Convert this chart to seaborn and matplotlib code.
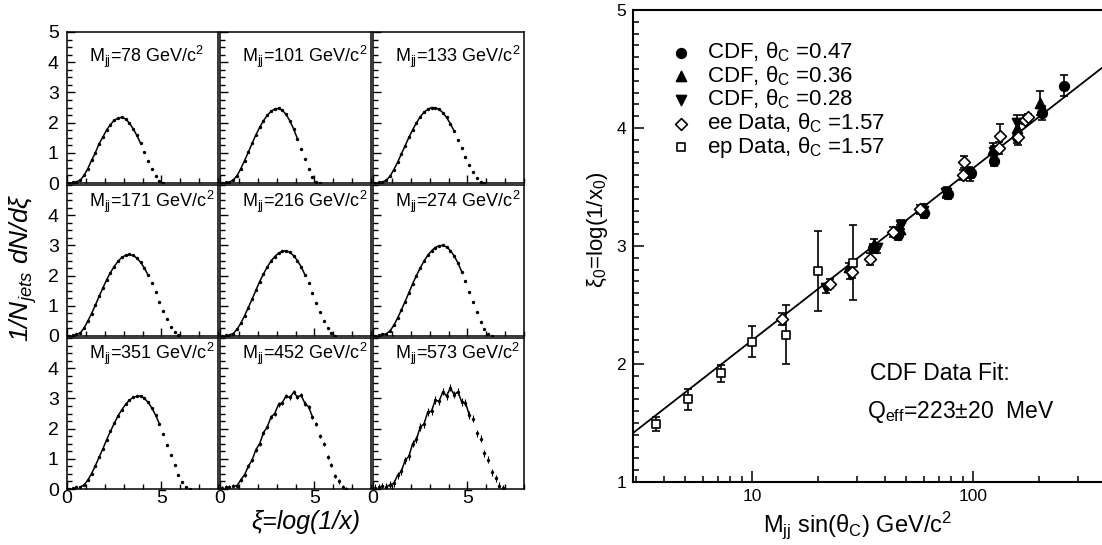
import numpy as np
import matplotlib
matplotlib.use("Agg")
import matplotlib.pyplot as plt
import seaborn as sns
from matplotlib.ticker import MultipleLocator, LogLocator, NullFormatter, FixedLocator, FixedFormatter

sns.set_style("ticks")
plt.rcParams["font.family"] = ["Liberation Sans", "DejaVu Sans"]
plt.rcParams["mathtext.fontset"] = "custom"
plt.rcParams["mathtext.rm"] = "Liberation Sans"
plt.rcParams["mathtext.it"] = "Liberation Sans:italic"
plt.rcParams["mathtext.bf"] = "Liberation Sans:bold"
plt.rcParams["axes.edgecolor"] = "black"
plt.rcParams["xtick.color"] = "black"
plt.rcParams["ytick.color"] = "black"
plt.rcParams["text.color"] = "black"

# ---------------- inclusive momentum spectra, 1/N dN/dxi ----------------
mjj = [78, 101, 133, 171, 216, 274, 351, 452, 573]

xi_bins = [0.1, 0.3, 0.5, 0.7, 0.9, 1.1, 1.3, 1.5, 1.7, 1.9, 2.1, 2.3, 2.5, 2.7,
           2.9, 3.1, 3.3, 3.5, 3.7, 3.9, 4.1, 4.3, 4.5, 4.7, 4.9, 5.1, 5.3, 5.5,
           5.7, 5.9, 6.1, 6.3, 6.5, 6.7, 6.9]

dn_78 = [0.01, 0.02, 0.04, 0.09, 0.25, 0.47, 0.75, 1.00, 1.30, 1.52, 1.76, 1.93, 2.08,
         2.14, 2.18, 2.12, 1.99, 1.80, 1.58, 1.31, 1.04, 0.74, 0.47, 0.24, 0.07, 0.01]
dn_101 = [0.01, 0.02, 0.03, 0.10, 0.24, 0.47, 0.74, 1.02, 1.31, 1.59, 1.84, 2.06, 2.24,
          2.37, 2.45, 2.47, 2.41, 2.27, 2.06, 1.79, 1.47, 1.13, 0.79, 0.47, 0.21, 0.04, 0.01]
dn_133 = [0.01, 0.02, 0.03, 0.09, 0.22, 0.44, 0.68, 0.96, 1.23, 1.51, 1.76, 1.99, 2.19,
          2.34, 2.44, 2.50, 2.49, 2.44, 2.33, 2.17, 1.96, 1.72, 1.44, 1.15, 0.87, 0.59,
          0.35, 0.15, 0.03, 0.01]
dn_171 = [0.01, 0.03, 0.05, 0.10, 0.26, 0.49, 0.74, 1.02, 1.31, 1.59, 1.86, 2.10, 2.30,
          2.47, 2.60, 2.67, 2.70, 2.67, 2.58, 2.44, 2.25, 2.01, 1.74, 1.45, 1.13, 0.83,
          0.55, 0.30, 0.12, 0.02]
dn_216 = [0.01, 0.03, 0.04, 0.08, 0.22, 0.42, 0.67, 0.94, 1.22, 1.51, 1.80, 2.05, 2.28,
          2.48, 2.63, 2.74, 2.81, 2.82, 2.77, 2.66, 2.50, 2.29, 2.03, 1.74, 1.43, 1.10,
          0.79, 0.51, 0.27, 0.09, 0.01]
dn_274 = [0.01, 0.03, 0.05, 0.07, 0.17, 0.35, 0.59, 0.86, 1.14, 1.43, 1.73, 2.00, 2.25,
          2.48, 2.67, 2.82, 2.93, 2.99, 3.00, 2.95, 2.83, 2.65, 2.42, 2.13, 1.81, 1.47,
          1.12, 0.79, 0.48, 0.23, 0.06, 0.01]
dn_351 = [0.01, 0.03, 0.05, 0.07, 0.13, 0.29, 0.51, 0.77, 1.05, 1.33, 1.63, 1.91, 2.17,
          2.42, 2.62, 2.80, 2.94, 3.03, 3.07, 3.08, 3.00, 2.87, 2.68, 2.44, 2.15, 1.83,
          1.47, 1.12, 0.79, 0.48, 0.23, 0.06, 0.01]
dn_452 = [0.02, 0.05, 0.05, 0.10, 0.11, 0.30, 0.47, 0.75, 0.96, 1.30, 1.50, 1.86, 2.05,
          2.38, 2.50, 2.80, 2.86, 3.08, 3.03, 3.20, 3.05, 3.10, 2.83, 2.72, 2.38, 2.16,
          1.75, 1.50, 1.05, 0.80, 0.44, 0.25, 0.05, 0.01]
dn_573 = [0.03, 0.06, 0.09, 0.07, 0.14, 0.19, 0.45, 0.58, 0.95, 1.08, 1.50, 1.64, 2.05,
          2.15, 2.55, 2.58, 2.95, 2.90, 3.22, 3.08, 3.35, 3.12, 3.22, 2.88, 2.86, 2.45,
          2.33, 1.85, 1.66, 1.18, 0.97, 0.55, 0.36, 0.10, 0.02]
spectra = [dn_78, dn_101, dn_133, dn_171, dn_216, dn_274, dn_351, dn_452, dn_573]
spectra_err = [0.03, 0.03, 0.03, 0.02, 0.02, 0.02, 0.03, 0.07, 0.12]
# xi window of the MLLA fit in each mass bin
fit_lo = [0.45, 0.45, 0.45, 0.40, 0.45, 0.50, 0.55, 0.55, 0.60]
fit_hi = [3.95, 4.15, 4.30, 4.40, 4.55, 4.75, 4.90, 5.05, 5.25]

# ---------------- peak position xi_0 versus Mjj sin(theta_c) ----------------
cdf_mjj = [78, 101, 133, 171, 216, 274, 351, 452, 573]
theta_047, theta_036, theta_028 = 0.47, 0.36, 0.28
xi0_047 = [2.98, 3.09, 3.28, 3.44, 3.62, 3.72, 3.92, 4.13, 4.36]
err_047 = [0.04, 0.04, 0.04, 0.04, 0.04, 0.04, 0.05, 0.06, 0.09]
xi0_036 = [2.82, 3.02, 3.14, 3.32, 3.46, 3.63, 3.82, 4.00, 4.21]
err_036 = [0.04, 0.04, 0.04, 0.04, 0.04, 0.04, 0.05, 0.06, 0.10]
xi0_028 = [2.64, 2.76, 2.98, 3.18, 3.30, 3.45, 3.60, 3.80, 4.04]
err_028 = [0.04, 0.04, 0.04, 0.04, 0.04, 0.04, 0.05, 0.05, 0.07]

ee_x = [13.7, 22.5, 28.3, 34.2, 43.5, 57.5, 90.2, 91.0, 132, 133, 160, 172, 178]
ee_y = [2.38, 2.68, 2.78, 2.89, 3.12, 3.31, 3.60, 3.71, 3.83, 3.93, 3.92, 4.07, 4.09]
ee_err = [0.05, 0.04, 0.05, 0.05, 0.04, 0.04, 0.04, 0.05, 0.05, 0.10, 0.06, 0.04, 0.03]

ep_x = [3.7, 5.13, 7.24, 10.05, 14.3, 19.9, 28.7]
ep_y = [1.49, 1.70, 1.92, 2.19, 2.25, 2.79, 2.86]
ep_err = [0.06, 0.09, 0.07, 0.13, 0.25, 0.34, 0.32]

fit_x = [2.9, 384.0]
fit_y = [1.415, 4.51]

# ---------------- figure ----------------
W, H = 1102, 545
fig = plt.figure(figsize=(W / 100, H / 100), dpi=100)


def px_axes(x0, y0, w, h):
    """Axes placed by its top-left corner and size in pixels."""
    return fig.add_axes([x0 / W, 1 - (y0 + h) / H, w / W, h / H])


title_y = [4.17, 4.43, 4.47]
for i, (m, vals) in enumerate(zip(mjj, spectra)):
    r, c = divmod(i, 3)
    ax = px_axes(67 + c * 153, 32 + r * 153, 151, 151)
    x = np.array(xi_bins[:len(vals)])
    y = np.array(vals)
    ax.errorbar(x, y, yerr=spectra_err[i], fmt="none", ecolor="black",
                elinewidth=0.8, capsize=0)
    sns.scatterplot(x=x, y=y, ax=ax, s=6, color="black", edgecolor=None,
                    linewidth=0, legend=False)
    sel = (x >= fit_lo[i]) & (x <= fit_hi[i])
    sns.lineplot(x=x[sel], y=y[sel], ax=ax, color="black", lw=1.1,
                 estimator=None, sort=False)
    ax.set_xlim(0, 8)
    ax.set_ylim(0, 5)
    ax.set_xlabel("")
    ax.set_ylabel("")
    ax.xaxis.set_major_locator(FixedLocator([0, 5]))
    ax.xaxis.set_minor_locator(MultipleLocator(1))
    ax.yaxis.set_major_locator(FixedLocator([0, 1, 2, 3, 4, 5] if r == 0 else [0, 1, 2, 3, 4]))
    ax.yaxis.set_minor_locator(MultipleLocator(0.25))
    ax.tick_params(which="both", direction="in", top=False, right=False,
                   labelsize=14, width=1.0)
    ax.tick_params(which="major", length=6, pad=6)
    ax.tick_params(which="minor", length=3.5)
    ax.tick_params(axis="x", pad=1)
    if c != 0:
        ax.tick_params(labelleft=False)
    if r != 2:
        ax.tick_params(labelbottom=False)
    for s in ax.spines.values():
        s.set_linewidth(1.1)
        s.set_visible(True)
    ax.text(1.15, title_y[r], f"M$_\\mathregular{{jj}}$={m} GeV/c$^\\mathregular{{2}}$",
            fontsize=13, va="center", ha="left")

fig.text(23 / W, 1 - 268 / H, "1/N$_\\mathregular{jets}$ dN/dξ", rotation=90,
         fontsize=19, style="italic", ha="center", va="center")
fig.text(306 / W, 1 - 522 / H, "ξ=log(1/x)", fontsize=18, style="italic",
         ha="center", va="center")

# ---------------- right panel ----------------
axr = px_axes(633, 10, 469, 472)
axr.set_xscale("log")
axr.set_xlim(fit_x[0], fit_x[1])
axr.set_ylim(1, 5)

sns.lineplot(x=fit_x, y=fit_y, ax=axr, color="black", lw=1.3, estimator=None, sort=False)

ebk = dict(fmt="none", ecolor="black", elinewidth=1.2, capsize=3, capthick=1.2)
sets = [
    (np.array(cdf_mjj) * np.sin(theta_047), xi0_047, err_047, "o", "black", 48,
     f"CDF, θ$_\\mathregular{{C}}$ ={theta_047:.2f}"),
    (np.array(cdf_mjj) * np.sin(theta_036), xi0_036, err_036, "^", "black", 52,
     f"CDF, θ$_\\mathregular{{C}}$ ={theta_036:.2f}"),
    (np.array(cdf_mjj) * np.sin(theta_028), xi0_028, err_028, "v", "black", 52,
     f"CDF, θ$_\\mathregular{{C}}$ ={theta_028:.2f}"),
    (np.array(ee_x), ee_y, ee_err, "D", "white", 36, "ee Data, θ$_\\mathregular{C}$ =1.57"),
    (np.array(ep_x), ep_y, ep_err, "s", "white", 40, "ep Data, θ$_\\mathregular{C}$ =1.57"),
]
for xs, ys, es, mk, fc, sz, lab in sets:
    axr.errorbar(xs, ys, yerr=es, **ebk)
for xs, ys, es, mk, fc, sz, lab in sets:
    sns.scatterplot(x=xs, y=ys, ax=axr, marker=mk, s=sz, color=fc,
                    edgecolor="black", linewidth=1.2, label=lab, zorder=5)

axr.set_xlabel("")
axr.set_ylabel("")
axr.xaxis.set_major_locator(FixedLocator([10, 100]))
axr.xaxis.set_major_formatter(FixedFormatter(["10", "100"]))
axr.xaxis.set_minor_locator(LogLocator(base=10, subs=np.arange(2, 10)))
axr.xaxis.set_minor_formatter(NullFormatter())
axr.yaxis.set_major_locator(MultipleLocator(1))
axr.yaxis.set_minor_locator(MultipleLocator(0.1))
axr.tick_params(which="both", direction="in", top=False, right=False, width=1.1)
axr.tick_params(which="major", length=8, labelsize=12.5, pad=5)
axr.tick_params(which="minor", length=4)
axr.spines["right"].set_visible(False)
for k in ("left", "bottom", "top"):
    axr.spines[k].set_linewidth(1.5)

axr.legend(loc="upper left", bbox_to_anchor=(0.081, 0.935), frameon=False,
           fontsize=16, handlelength=0.9, handletextpad=0.7, labelspacing=0.0,
           borderpad=0, borderaxespad=0)

fig.text(870 / W, 1 - 373 / H, "CDF Data Fit:", fontsize=16.5, ha="left", va="center")
fig.text(867 / W, 1 - 412 / H, "Q$_\\mathregular{eff}$=223±20  MeV", fontsize=16.5,
         ha="left", va="center")
fig.text(858 / W, 1 - 525 / H,
         "M$_\\mathregular{jj}$ sin(θ$_\\mathregular{C}$) GeV/c$^\\mathregular{2}$",
         fontsize=17, ha="center", va="center")
fig.text(597 / W, 1 - 230 / H, "ξ$_\\mathregular{0}$=log(1/x$_\\mathregular{0}$)",
         fontsize=16, rotation=90, ha="center", va="center")

fig.savefig("out.png", dpi=100)
